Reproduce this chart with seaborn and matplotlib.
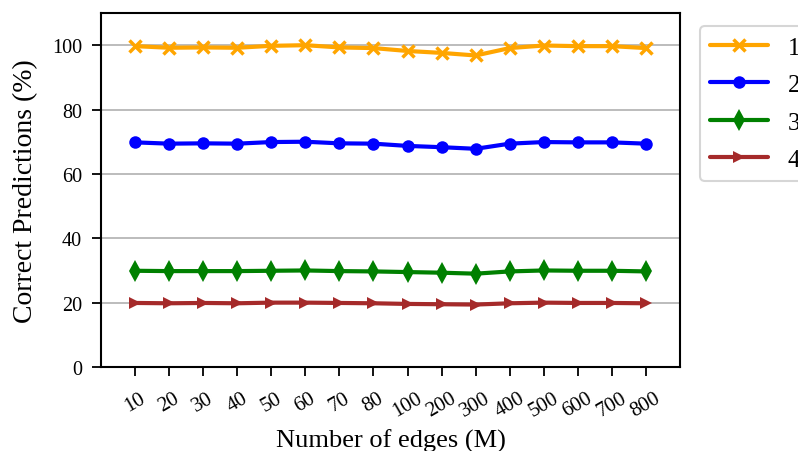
import matplotlib
matplotlib.use("Agg")
import matplotlib.pyplot as plt
import seaborn as sns
import pandas as pd

edges = ["10", "20", "30", "40", "50", "60", "70", "80", "100", "200", "300", "400", "500", "600", "700", "800"]
s1 = [99.7, 99.2, 99.3, 99.2, 99.8, 100.0, 99.3, 99.1, 98.2, 97.6, 96.8, 99.1, 99.9, 99.7, 99.7, 99.1]
s2 = [69.8, 69.4, 69.5, 69.4, 69.9, 70.0, 69.5, 69.4, 68.7, 68.3, 67.8, 69.4, 69.9, 69.8, 69.8, 69.4]
s3 = [29.9, 29.8, 29.8, 29.8, 29.9, 30.0, 29.8, 29.7, 29.5, 29.3, 29.0, 29.7, 30.0, 29.9, 29.9, 29.7]
s4 = [19.9, 19.8, 19.9, 19.8, 20.0, 20.0, 19.9, 19.8, 19.6, 19.5, 19.4, 19.8, 20.0, 19.9, 19.9, 19.8]
series_names = ["1", "2", "3", "4"]
colors = ["orange", "blue", "green", "brown"]
markers = ["x", "o", "d", ">"]

sns.set_style("ticks")
plt.rcParams["font.family"] = ["Liberation Serif", "DejaVu Serif"]
plt.rcParams["text.color"] = "black"
plt.rcParams["axes.labelcolor"] = "black"
plt.rcParams["xtick.color"] = "black"
plt.rcParams["ytick.color"] = "black"

fig = plt.figure(figsize=(7.98, 4.52), dpi=100)
ax = fig.add_axes([101 / 798, 1 - 368 / 452, (680 - 101) / 798, (368 - 14) / 452])

for name, vals, c, m in zip(series_names, [s1, s2, s3, s4], colors, markers):
    d = pd.DataFrame({"pos": range(len(edges)), "value": vals})
    if m == "x":
        kw = dict(markersize=8, markeredgewidth=2.5, markeredgecolor=c)
    else:
        kw = dict(markersize=11 if m == "d" else 9, markeredgewidth=0,
                  markeredgecolor=c, markerfacecolor=c)
    sns.lineplot(data=d, x="pos", y="value", color=c, marker=m, linewidth=3,
                 linestyle="-", label=name, ax=ax, **kw)

ax.set_xlim(-1, 16)
ax.set_ylim(0, 110)
ax.set_xticks(range(len(edges)))
ax.set_xticklabels(edges, rotation=30, fontsize=15)
ax.set_yticks([0, 20, 40, 60, 80, 100])
ax.tick_params(axis="y", labelsize=14.5, pad=7)
ax.tick_params(axis="x", pad=9)
ax.tick_params(axis="both", width=1.3, length=6.5, colors="black")
ax.yaxis.grid(True, color="#b0b0b0", linewidth=1.2)
ax.set_axisbelow(True)
ax.set_xlabel("Number of edges (M)", fontsize=19, labelpad=6)
ax.set_ylabel("Correct Predictions (%)", fontsize=20, labelpad=10)
for sp in ax.spines.values():
    sp.set_linewidth(1.5)
    sp.set_color("black")

handles, labels = ax.get_legend_handles_labels()
leg = ax.legend(handles, labels, loc="upper left", bbox_to_anchor=(1.035, 0.963),
                fontsize=18, frameon=True, handlelength=2.3, labelspacing=0.6,
                borderaxespad=0.0)
leg.get_frame().set_edgecolor("#cccccc")
leg.get_frame().set_linewidth(1.5)

fig.savefig("out.png", dpi=100)
